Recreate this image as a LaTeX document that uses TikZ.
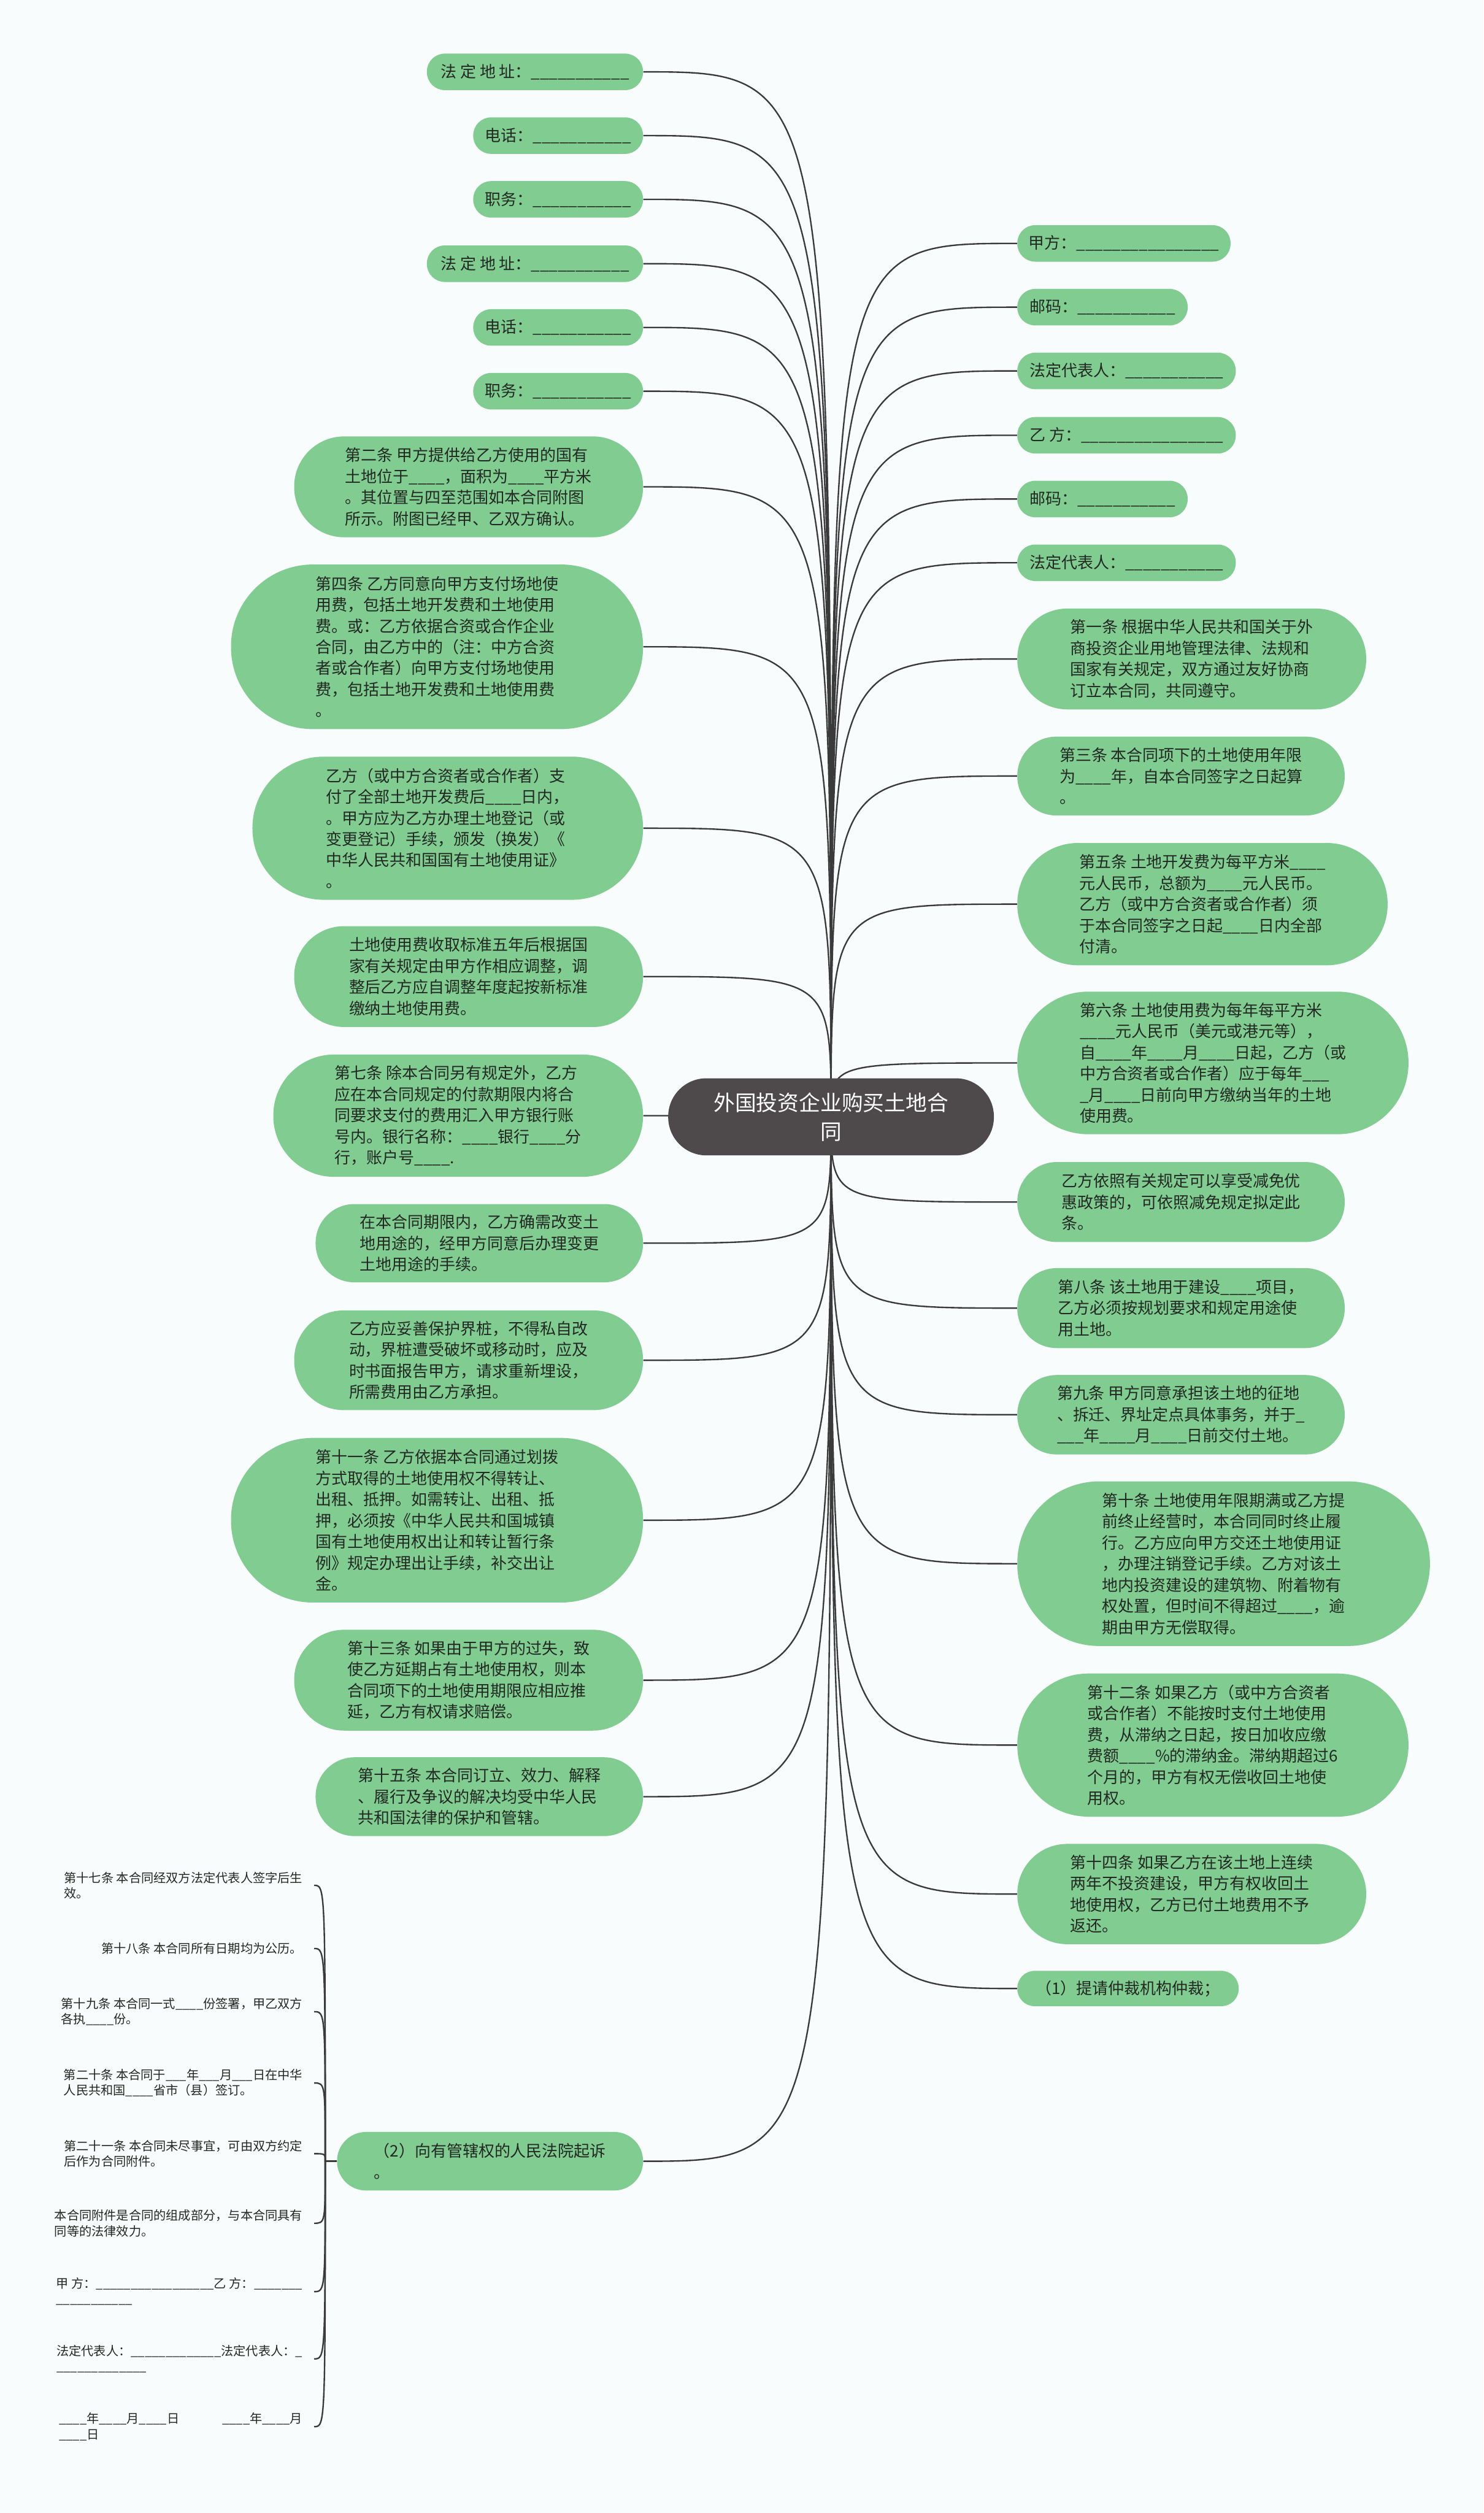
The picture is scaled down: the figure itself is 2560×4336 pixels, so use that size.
\documentclass[tikz,border=0pt]{standalone}
\usepackage{fontspec}
\setmainfont{Noto Sans CJK SC}
\definecolor{bgc}{RGB}{248,252,252}
\definecolor{gfill}{RGB}{128,204,145}
\definecolor{cfill}{RGB}{78,73,74}
\definecolor{lnc}{RGB}{58,58,58}
\definecolor{txc}{RGB}{34,40,34}
\ExplSyntaxOn
\NewDocumentCommand\bk{m}{\prg_replicate:nn{#1}{\_}}
\ExplSyntaxOff
\pgfdeclarelayer{bglayer}
\pgfdeclarelayer{edgelayer}
\pgfsetlayers{bglayer,edgelayer,main}
\tikzset{
  gnode/.style={rectangle, fill=gfill, text=txc, align=left, inner sep=0pt,
    font=\fontsize{13.75pt}{18.25pt}\selectfont},
  lnode/.style={gnode, anchor=east},
  rnode/.style={gnode, anchor=west},
  sz/.style 2 args={minimum width=#1*0.5pt, minimum height=#2*0.5pt, rounded corners=#2*0.25pt-0.3pt},
  cnode/.style={rectangle, fill=cfill, text=white, align=center, inner sep=0pt,
    font=\fontsize{18.4pt}{25pt}\selectfont},
  tnode/.style={anchor=east, align=left, inner sep=0pt, outer xsep=10pt, text=txc,
    font=\fontsize{10.7pt}{13.4pt}\selectfont},
  conn/.style={draw=lnc, line width=1.25pt},
}
\begin{document}
\begin{tikzpicture}[x=0.5pt, y=-0.5pt]
\useasboundingbox (0,0) rectangle (2560,4336);
\begin{pgfonlayer}{bglayer}
\fill[bgc] (0,0) rectangle (2560,4336);
\end{pgfonlayer}

\node[cnode, sz={562}{133}] (C) at (1434,1927) {外国投资企业购买土地合\\同};

% left side
\node[lnode, sz={373}{63}] (L1) at (1110,124) {法 定 地 址：\bk{11}};
\node[lnode, sz={293}{63}] (L2) at (1110,234) {电话：\bk{11}};
\node[lnode, sz={293}{63}] (L3) at (1110,344) {职务：\bk{11}};
\node[lnode, sz={373}{63}] (L4) at (1110,455) {法 定 地 址：\bk{11}};
\node[lnode, sz={293}{63}] (L5) at (1110,565) {电话：\bk{11}};
\node[lnode, sz={293}{63}] (L6) at (1110,675) {职务：\bk{11}};
\node[lnode, sz={602}{174}] (L7) at (1110,840) {第二条 甲方提供给乙方使用的国有\\土地位于\bk{4}，面积为\bk{4}平方米\\。其位置与四至范围如本合同附图\\所示。附图已经甲、乙双方确认。};
\node[lnode, sz={711}{284}] (L8) at (1110,1116) {第四条 乙方同意向甲方支付场地使\\用费，包括土地开发费和土地使用\\费。或：乙方依据合资或合作企业\\合同，由乙方中的（注：中方合资\\者或合作者）向甲方支付场地使用\\费，包括土地开发费和土地使用费\\。};
\node[lnode, sz={674}{247}] (L9) at (1110,1429) {乙方（或中方合资者或合作者）支\\付了全部土地开发费后\bk{4}日内，\\。甲方应为乙方办理土地登记（或\\变更登记）手续，颁发（换发）《\\中华人民共和国国有土地使用证》\\。};
\node[lnode, sz={602}{174}] (L10) at (1110,1685) {土地使用费收取标准五年后根据国\\家有关规定由甲方作相应调整，调\\整后乙方应自调整年度起按新标准\\缴纳土地使用费。};
\node[lnode, sz={638}{211}] (L11) at (1110,1925) {第七条 除本合同另有规定外，乙方\\应在本合同规定的付款期限内将合\\同要求支付的费用汇入甲方银行账\\号内。银行名称：\bk{4}银行\bk{4}分\\行，账户号\bk{4}.};
\node[lnode, sz={565}{135}] (L12) at (1110,2145) {在本合同期限内，乙方确需改变土\\地用途的，经甲方同意后办理变更\\土地用途的手续。};
\node[lnode, sz={602}{172}] (L13) at (1110,2347) {乙方应妥善保护界桩，不得私自改\\动，界桩遭受破坏或移动时，应及\\时书面报告甲方，请求重新埋设，\\所需费用由乙方承担。};
\node[lnode, sz={711}{284}] (L14) at (1110,2623) {第十一条 乙方依据本合同通过划拨\\方式取得的土地使用权不得转让、\\出租、抵押。如需转让、出租、抵\\押，必须按《中华人民共和国城镇\\国有土地使用权出让和转让暂行条\\例》规定办理出让手续，补交出让\\金。};
\node[lnode, sz={602}{174}] (L15) at (1110,2899) {第十三条 如果由于甲方的过失，致\\使乙方延期占有土地使用权，则本\\合同项下的土地使用期限应相应推\\延，乙方有权请求赔偿。};
\node[lnode, sz={565}{136}] (L16) at (1110,3100) {第十五条 本合同订立、效力、解释\\、履行及争议的解决均受中华人民\\共和国法律的保护和管辖。};
\node[lnode, sz={528}{101}] (L17) at (1110,3729) {（2）向有管辖权的人民法院起诉\\。};

% right side
\node[rnode, sz={368}{63}] (R1) at (1755,420) {甲方：\bk{16}};
\node[rnode, sz={294}{63}] (R2) at (1755,530) {邮码：\bk{11}};
\node[rnode, sz={377}{63}] (R3) at (1755,640) {法定代表人：\bk{11}};
\node[rnode, sz={377}{63}] (R4) at (1755,751) {乙 方：\bk{16}};
\node[rnode, sz={294}{63}] (R5) at (1755,861) {邮码：\bk{11}};
\node[rnode, sz={377}{63}] (R6) at (1755,971) {法定代表人：\bk{11}};
\node[rnode, sz={602}{174}] (R7) at (1755,1137) {第一条 根据中华人民共和国关于外\\商投资企业用地管理法律、法规和\\国家有关规定，双方通过友好协商\\订立本合同，共同遵守。};
\node[rnode, sz={565}{136}] (R8) at (1755,1339) {第三条 本合同项下的土地使用年限\\为\bk{4}年，自本合同签字之日起算\\。};
\node[rnode, sz={639}{211}] (R9) at (1755,1560) {第五条 土地开发费为每平方米\bk{4}\\元人民币，总额为\bk{4}元人民币。\\乙方（或中方合资者或合作者）须\\于本合同签字之日起\bk{4}日内全部\\付清。};
\node[rnode, sz={675}{246}] (R10) at (1755,1834) {第六条 土地使用费为每年每平方米\\\bk{4}元人民币（美元或港元等），\\自\bk{4}年\bk{4}月\bk{4}日起，乙方（或\\中方合资者或合作者）应于每年\bk{3}\\\bk{1}月\bk{4}日前向甲方缴纳当年的土地\\使用费。};
\node[rnode, sz={565}{138}] (R11) at (1755,2074) {乙方依照有关规定可以享受减免优\\惠政策的，可依照减免规定拟定此\\条。};
\node[rnode, sz={565}{138}] (R12) at (1755,2257) {第八条 该土地用于建设\bk{4}项目，\\乙方必须按规划要求和规定用途使\\用土地。};
\node[rnode, sz={565}{137}] (R13) at (1755,2441) {第九条 甲方同意承担该土地的征地\\、拆迁、界址定点具体事务，并于\bk{1}\\\bk{3}年\bk{4}月\bk{4}日前交付土地。};
\node[rnode, sz={712}{284}] (R14) at (1755,2698) {第十条 土地使用年限期满或乙方提\\前终止经营时，本合同同时终止履\\行。乙方应向甲方交还土地使用证\\，办理注销登记手续。乙方对该土\\地内投资建设的建筑物、附着物有\\权处置，但时间不得超过\bk{4}，逾\\期由甲方无偿取得。};
\node[rnode, sz={675}{247}] (R15) at (1755,3011) {第十二条 如果乙方（或中方合资者\\或合作者）不能按时支付土地使用\\费，从滞纳之日起，按日加收应缴\\费额\bk{4}\%的滞纳金。滞纳期超过6\\个月的，甲方有权无偿收回土地使\\用权。};
\node[rnode, sz={602}{173}] (R16) at (1755,3268) {第十四条 如果乙方在该土地上连续\\两年不投资建设，甲方有权收回土\\地使用权，乙方已付土地费用不予\\返还。};
\node[rnode, sz={382}{61}] (R17) at (1755,3431) {（1）提请仲裁机构仲裁；};

% bottom-left plain items
\node[tnode] (T1) at (542,3253) {第十七条 本合同经双方法定代表人签字后生\\效。};
\node[tnode] (T2) at (542,3362) {第十八条 本合同所有日期均为公历。};
\node[tnode] (T3) at (542,3471) {第十九条 本合同一式\bk{4}份签署，甲乙双方\\各执\bk{4}份。};
\node[tnode] (T4) at (542,3594) {第二十条 本合同于\bk{3}年\bk{3}月\bk{3}日在中华\\人民共和国\bk{4}省市（县）签订。};
\node[tnode] (T5) at (542,3716) {第二十一条 本合同未尽事宜，可由双方约定\\后作为合同附件。};
\node[tnode] (T6) at (542,3836) {本合同附件是合同的组成部分，与本合同具有\\同等的法律效力。};
\node[tnode] (T7) at (542,3954) {甲 方：\bk{17}乙 方：\bk{7}\\\bk{11}};
\node[tnode] (T8) at (542,4070) {法定代表人：\bk{13}法定代表人：\bk{1}\\\bk{13}};
\node[tnode] (T9) at (542,4187) {\bk{4}年\bk{4}月\bk{4}日\hspace{37pt}\bk{4}年\bk{4}月\\\bk{4}日};

\begin{pgfonlayer}{edgelayer}
\foreach \n in {L1,L2,L3,L4,L5,L6,L7,L8,L9,L10,L11,L12,L13,L14,L15,L16,L17}
  \draw[conn] (C.center) .. controls (C.center |- \n.east) .. (\n.east);
\foreach \n in {R1,R2,R3,R4,R5,R6,R7,R8,R9,R10,R11,R12,R13,R14,R15,R16,R17}
  \draw[conn] (C.center) .. controls (C.center |- \n.west) .. (\n.west);
\draw[conn] (L17.west) -- ++(-20,0) coordinate (J);
\foreach \n in {T1,T2,T3,T4,T5,T6,T7,T8,T9}
  \draw[conn] (J) .. controls (J |- \n.east) .. (\n.east);
\end{pgfonlayer}
\end{tikzpicture}
\end{document}
